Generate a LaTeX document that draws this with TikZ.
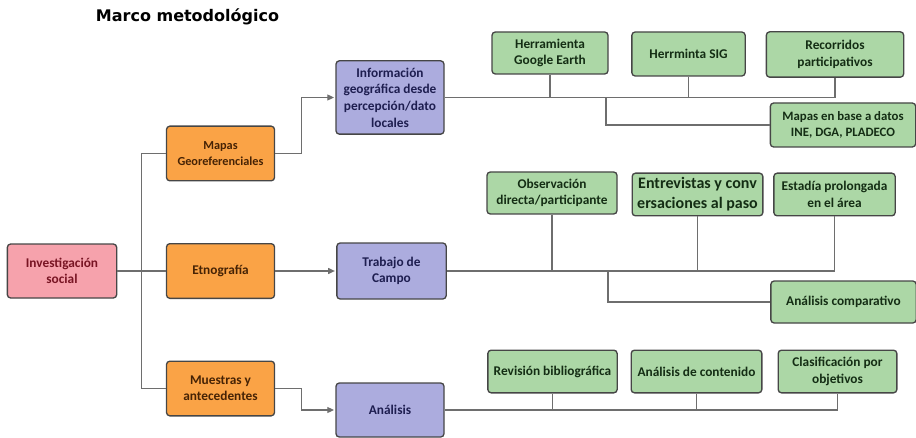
\documentclass[tikz,border=0pt]{standalone}
\usepackage{fontspec}
\setmainfont{Carlito}
\newfontfamily\titlefont{DejaVu Sans}
\usetikzlibrary{arrows.meta}

\definecolor{pinkfill}{RGB}{246,162,172}
\definecolor{orangefill}{RGB}{250,163,70}
\definecolor{purplefill}{RGB}{172,172,222}
\definecolor{greenfill}{RGB}{172,215,166}
\definecolor{boxline}{RGB}{70,70,70}
\definecolor{wire}{RGB}{110,110,110}

\tikzset{every picture/.style={line width=0.75pt}}
\tikzset{
	box/.style={draw=boxline, line width=1pt, rounded corners=2.5pt, align=center, inner sep=0.5pt, font=\bfseries\fontsize{10}{12.2}\selectfont},
	rootbox/.style={box, fill=pinkfill, text={rgb,255:red,120;green,20;blue,35}},
	methbox/.style={box, fill=orangefill, text={rgb,255:red,70;green,35;blue,5}},
	workbox/.style={box, fill=purplefill, text={rgb,255:red,30;green,30;blue,80}},
	toolbox/.style={box, fill=greenfill, text={rgb,255:red,20;green,45;blue,20}},
	wire/.style={draw=wire, line width=0.8pt},
	arr/.style={wire, -{Triangle[length=5pt,width=4.5pt]}, shorten >=1pt}}

\begin{document}
\begin{tikzpicture}[x=0.75pt,y=0.75pt,yscale=-1,xscale=1]
	\useasboundingbox (0,0) rectangle (916,438);

	% Text Node
	\draw (187.5,17) node  (title) {\titlefont\bfseries\fontsize{12}{14}\selectfont Marco metodológico};

	%Shape: Rectangle [id:root]
	\node [rootbox, minimum width=82pt, minimum height=40.5pt] (inv) at (62,271) {Investigación\\social};

	%Shape: Rectangle [id:methods]
	\node [methbox, minimum width=81pt, minimum height=41pt, font=\bfseries\fontsize{9.2}{12.2}\selectfont] (mapas) at (220.5,153.5) {Mapas\\Georeferenciales};
	\node [methbox, minimum width=81pt, minimum height=41pt] (etno) at (220.5,271) {Etnografía};
	\node [methbox, minimum width=81pt, minimum height=41pt] (muestras) at (220.5,388.5) {Muestras y\\antecedentes};

	%Shape: Rectangle [id:work]
	\node [workbox, minimum width=81pt, minimum height=55pt, font=\bfseries\fontsize{10}{12.5}\selectfont] (info) at (390,97.5) {Información\\geográfica desde\\percepción/dato\\locales};
	\node [workbox, minimum width=82pt, minimum height=42pt] (campo) at (391.5,271) {Trabajo de\\Campo};
	\node [workbox, minimum width=81pt, minimum height=40.5pt] (analisis) at (390,410) {Análisis};

	%Shape: Rectangle [id:tools top]
	\node [toolbox, minimum width=87pt, minimum height=31.5pt] (earth) at (550,53) {Herramienta\\Google Earth};
	\node [toolbox, minimum width=85pt, minimum height=33pt] (sig) at (688.5,54) {Herrminta SIG};
	\node [toolbox, minimum width=103pt, minimum height=34pt] (recorr) at (835,54.5) {Recorridos\\participativos};
	\node [toolbox, minimum width=109pt, minimum height=33pt, font=\bfseries\fontsize{9.6}{12.2}\selectfont] (ine) at (843,125) {Mapas en base a datos\\INE, DGA, PLADECO};

	%Shape: Rectangle [id:tools middle]
	\node [toolbox, minimum width=97.5pt, minimum height=31.5pt] (obs) at (552,193) {Observación\\directa/participante};
	\node [toolbox, minimum width=98pt, minimum height=32pt, font=\bfseries\fontsize{12}{15}\selectfont] (entrev) at (697.5,194.5) {Entrevistas y conv\\ersaciones al paso};
	\node [toolbox, minimum width=91pt, minimum height=32pt] (estadia) at (834.5,194.5) {Estadía prolongada\\en el área};
	\node [toolbox, minimum width=109pt, minimum height=31.5pt] (compar) at (843.5,302) {Análisis comparativo};

	%Shape: Rectangle [id:tools bottom]
	\node [toolbox, minimum width=97pt, minimum height=32pt] (biblio) at (552.5,371.5) {Revisión bibliográfica};
	\node [toolbox, minimum width=98pt, minimum height=32pt] (conten) at (696.5,371.5) {Análisis de contenido};
	\node [toolbox, minimum width=89pt, minimum height=32pt] (clasif) at (837.5,371.5) {Clasificación por\\objetivos};

	%Straight Lines [id:spine]
	\draw [wire] (mapas.west) -- ++(-24,0) |- (muestras.west);
	\draw [wire] (inv) -- (etno);

	%Straight Lines [id:arrows]
	\draw [arr] (mapas.east) -- ++(26,0) |- (info.west);
	\draw [arr] (etno) -- (campo);
	\draw [arr] (muestras.east) -- ++(26,0) |- (analisis.west);

	%Straight Lines [id:top branch]
	\draw [wire] (info.east) -| (recorr.south);
	\draw [wire] (earth.south) -- (earth.south |- info.east);
	\draw [wire] (sig.south) -- (sig.south |- info.east);
	\coordinate (topfork) at (606,97.5);
	\draw [wire] (topfork) |- (ine.west);

	%Straight Lines [id:middle branch]
	\draw [wire] (campo.east) -| (estadia.south);
	\draw [wire] (obs.south) -- (obs.south |- campo.east);
	\draw [wire] (entrev.south) -- (entrev.south |- campo.east);
	\coordinate (midfork) at (608,271);
	\draw [wire] (midfork) |- (compar.west);

	%Straight Lines [id:bottom branch]
	\draw [wire] (analisis.east) -| (clasif.south);
	\draw [wire] (biblio.south) -- (biblio.south |- analisis.east);
	\draw [wire] (conten.south) -- (conten.south |- analisis.east);

\end{tikzpicture}
\end{document}
